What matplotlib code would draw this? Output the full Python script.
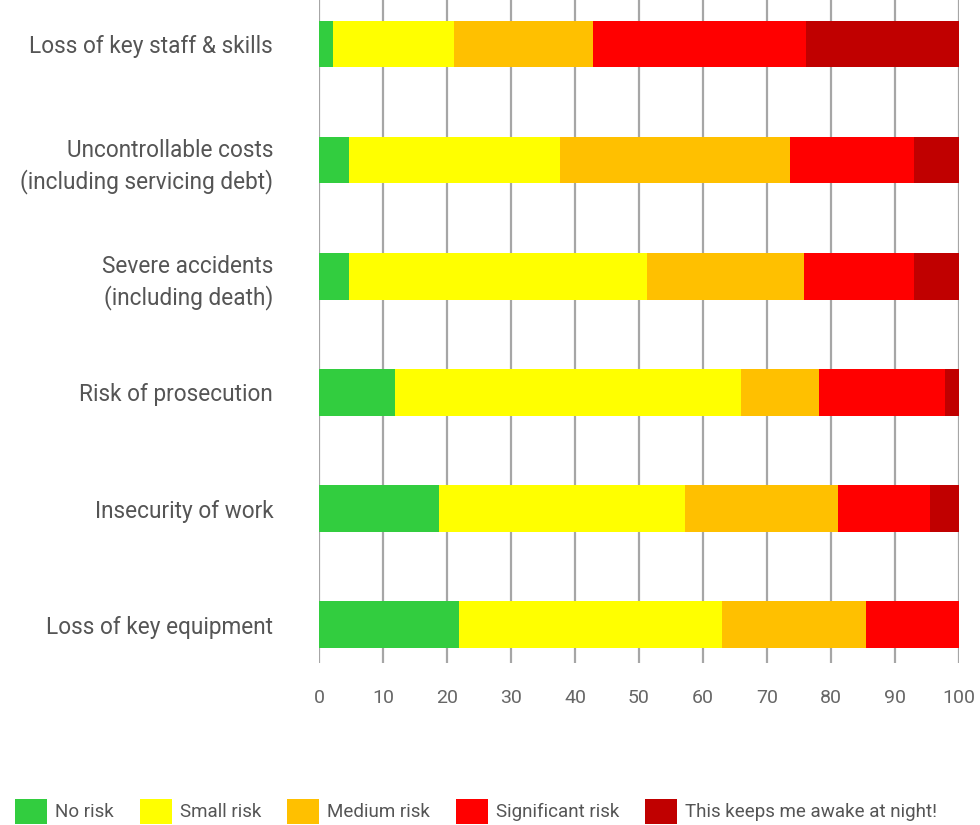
import matplotlib
matplotlib.use("Agg")
import matplotlib.pyplot as plt
from matplotlib.patches import Patch
import numpy as np

categories = [
    "Loss of key staff & skills",
    "Uncontrollable costs\n(including servicing debt)",
    "Severe accidents\n(including death)",
    "Risk of prosecution",
    "Insecurity of work",
    "Loss of key equipment",
]
series_names = ["No risk", "Small risk", "Medium risk", "Significant risk",
                "This keeps me awake at night!"]
no_risk = [2.2, 4.7, 4.7, 11.9, 18.7, 21.9]
small_risk = [18.9, 33.0, 46.6, 54.0, 38.5, 41.0]
medium_risk = [21.7, 35.9, 24.5, 12.2, 23.9, 22.6]
significant_risk = [33.3, 19.3, 17.1, 19.7, 14.4, 14.5]
awake_at_night = [23.9, 7.1, 7.1, 2.2, 4.5, 0.0]
x_ticks = [0, 10, 20, 30, 40, 50, 60, 70, 80, 90, 100]

colors = ["#32cd3f", "#ffff00", "#ffc000", "#ff0000", "#c00000"]

plt.rcParams['font.family'] = ['Roboto', 'DejaVu Sans']

fig = plt.figure(figsize=(9.8, 8.25), dpi=100)
ax = fig.add_axes([319/980, 1 - 663/825, 640/980, 663/825])

y = np.arange(len(categories))
left = np.zeros(len(categories))
for name, vals, c in zip(series_names,
                         [no_risk, small_risk, medium_risk, significant_risk, awake_at_night],
                         colors):
    ax.barh(y, vals, left=left, height=0.4, color=c, label=name, zorder=3)
    left += np.array(vals)

ax.set_xlim(0, 100)
ax.set_ylim(len(categories) - 1 + 0.33, -0.38)
ax.set_xticks(x_ticks)
ax.set_xticklabels([str(t) for t in x_ticks])
ax.set_yticks(y)
ax.set_yticklabels(categories, ha='right', linespacing=1.38)
ax.tick_params(axis='y', length=0, pad=33, labelsize=16.3, labelcolor='#555555')
ax.tick_params(axis='x', length=0, pad=19, labelsize=14, labelcolor='#666666')
ax.grid(axis='x', color='#a6a6a6', linewidth=1.6, zorder=0)
ax.grid(axis='y', visible=False)
for s in ax.spines.values():
    s.set_visible(False)

handles = [Patch(facecolor=c, edgecolor='none') for c in colors]
leg = fig.legend(handles, series_names, loc='lower left',
                 bbox_to_anchor=(15/980, 1/825), ncol=5, frameon=False,
                 fontsize=13.5, handlelength=1.7, handleheight=1.7,
                 handletextpad=0.42, columnspacing=1.4, borderaxespad=0,
                 borderpad=0)
for t in leg.get_texts():
    t.set_color('#555555')

fig.savefig("out.png", dpi=100)
